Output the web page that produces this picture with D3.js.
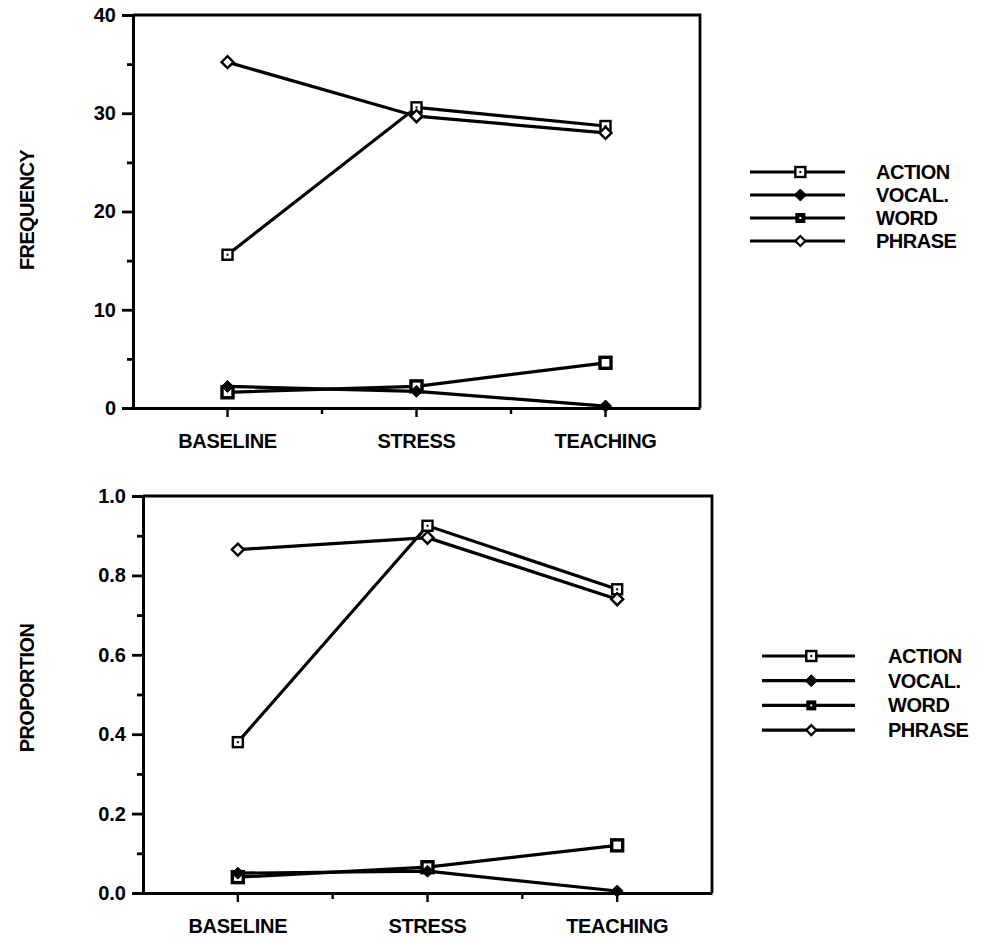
<!DOCTYPE html>
<html><head><meta charset="utf-8">
<script src="https://cdn.jsdelivr.net/npm/d3@7"></script>
<style>
body{margin:0;background:#fff;}
text{font-family:"Liberation Sans",Arial,sans-serif;fill:#000;}
</style></head>
<body><svg id="c" width="984" height="943"></svg>
<script>
const categories = ["BASELINE","STRESS","TEACHING"];
const seriesNames = ["ACTION","VOCAL","WORD","PHRASE"];
const freqAction = [15.6, 30.6, 28.7];
const freqVocal  = [2.2, 1.7, 0.2];
const freqWord   = [1.6, 2.2, 4.6];
const freqPhrase = [35.2, 29.7, 28.0];
const propAction = [0.38, 0.925, 0.765];
const propVocal  = [0.05, 0.055, 0.005];
const propWord   = [0.04, 0.065, 0.12];
const propPhrase = [0.865, 0.895, 0.74];
const freqTicks = [0, 10, 20, 30, 40];
const freqMinor = [5, 15, 25, 35];
const propTicks = [0, 0.2, 0.4, 0.6, 0.8, 1.0];
const propMinor = [0.1, 0.3, 0.5, 0.7, 0.9];

const svg = d3.select("#c");
const FONT = "Liberation Sans, Arial, sans-serif";

function marker(g, type, x, y) {
  if (type === "ACTION") {
    g.append("rect").attr("x", x-5).attr("y", y-5).attr("width", 10).attr("height", 10)
      .attr("fill", "#fff").attr("stroke", "#000").attr("stroke-width", 2.4);
    g.append("rect").attr("x", x-1).attr("y", y-1).attr("width", 2).attr("height", 2).attr("fill", "#000");
  } else if (type === "WORD") {
    g.append("rect").attr("x", x-5.5).attr("y", y-5.5).attr("width", 11).attr("height", 11)
      .attr("fill", "#fff").attr("stroke", "#000").attr("stroke-width", 3.4);
  } else if (type === "VOCAL") {
    g.append("path").attr("d", `M${x},${y-6}L${x+6},${y}L${x},${y+6}L${x-6},${y}Z`)
      .attr("fill", "#000").attr("stroke", "#000").attr("stroke-width", 1);
  } else {
    g.append("path").attr("d", `M${x},${y-6}L${x+6},${y}L${x},${y+6}L${x-6},${y}Z`)
      .attr("fill", "#fff").attr("stroke", "#000").attr("stroke-width", 2.4);
  }
}

function panel(cfg) {
  const g = svg.append("g");
  const x = d3.scaleBand().domain(categories).range([cfg.x0, cfg.x1]).padding(0);
  const y = d3.scaleLinear().domain([0, cfg.ymax]).range([cfg.y1, cfg.y0]);
  // frame
  g.append("path").attr("d", `M${cfg.x0},${cfg.y0}H${cfg.x1}V${cfg.y1}`)
    .attr("fill", "none").attr("stroke", "#000").attr("stroke-width", 2.8);
  // y axis
  const ya = g.append("g").attr("transform", `translate(${cfg.x0},0)`)
    .call(d3.axisLeft(y).tickValues(cfg.ticks).tickSize(11).tickPadding(6).tickFormat(cfg.fmt));
  ya.select(".domain").attr("stroke-width", 3);
  ya.selectAll(".tick line").attr("stroke-width", 2.8);
  ya.selectAll(".tick text").attr("font-size", 20).style("font-family", FONT).attr("font-weight", "bold");
  const ym = g.append("g").attr("transform", `translate(${cfg.x0},0)`)
    .call(d3.axisLeft(y).tickValues(cfg.minor).tickSize(6).tickFormat(""));
  ym.select(".domain").remove();
  ym.selectAll(".tick line").attr("stroke-width", 2.8);
  // x axis
  const xa = g.append("g").attr("transform", `translate(0,${cfg.y1})`)
    .call(d3.axisBottom(x).tickSize(9).tickPadding(17).tickSizeOuter(0));
  xa.select(".domain").attr("stroke-width", 3);
  xa.selectAll(".tick line").attr("stroke-width", 2.4);
  xa.selectAll(".tick text").attr("font-size", 20).style("font-family", FONT).attr("font-weight", "bold").attr("letter-spacing", "-0.3");
  // minor x ticks at band boundaries
  const bounds = categories.slice(1).map(c => x(c));
  g.selectAll(".xm").data(bounds).enter().append("line")
    .attr("x1", d => d).attr("x2", d => d).attr("y1", cfg.y1).attr("y2", cfg.y1 + 6)
    .attr("stroke", "#000").attr("stroke-width", 2.4);
  // y title
  g.append("text").attr("transform", `translate(${cfg.titleX},${cfg.titleY}) rotate(-90)`)
    .attr("text-anchor", "middle").attr("dominant-baseline", "central")
    .attr("font-size", 20).attr("font-weight", "bold").attr("letter-spacing", "-0.6")
    .text(cfg.title);
  // lines
  const line = d3.line().x((d, i) => x(categories[i]) + x.bandwidth()/2).y(d => y(d));
  const order = ["ACTION","PHRASE","WORD","VOCAL"];
  order.forEach(name => {
    g.append("path").datum(cfg.data[name]).attr("d", line).attr("fill", "none")
      .attr("stroke", "#000").attr("stroke-width", 3.2);
  });
  order.forEach(name => {
    cfg.data[name].forEach((v, i) => marker(g, name, x(categories[i]) + x.bandwidth()/2, y(v)));
  });
  // legend
  const lg = svg.append("g");
  seriesNames.forEach((name, i) => {
    const ly = cfg.legY + i * cfg.legStep;
    lg.append("line").attr("x1", cfg.legX0).attr("x2", cfg.legX1).attr("y1", ly).attr("y2", ly)
      .attr("stroke", "#000").attr("stroke-width", 3.2);
    const mx = cfg.legX0 + (cfg.legX1 - cfg.legX0) * 0.53;
    if (name === "WORD") {
      lg.append("rect").attr("x", mx-5).attr("y", ly-5).attr("width", 10).attr("height", 10).attr("fill", "#000");
      lg.append("rect").attr("x", mx-1).attr("y", ly-1).attr("width", 2).attr("height", 2).attr("fill", "#fff");
    } else if (name === "PHRASE") {
      lg.append("path").attr("d", `M${mx},${ly-5}L${mx+5},${ly}L${mx},${ly+5}L${mx-5},${ly}Z`)
        .attr("fill", "#fff").attr("stroke", "#000").attr("stroke-width", 2.2);
    } else marker(lg, name, mx, ly);
    lg.append("text").attr("x", cfg.legTextX).attr("y", ly).attr("dominant-baseline", "central")
      .attr("font-size", 20).attr("font-weight", "bold").attr("letter-spacing", "-0.5")
      .text(name === "VOCAL" ? "VOCAL." : name);
  });
}

panel({
  x0: 133, x1: 700, y0: 15, y1: 408, ymax: 40,
  ticks: freqTicks, minor: freqMinor, fmt: d3.format("d"),
  title: "FREQUENCY", titleX: 27, titleY: 210,
  data: {ACTION: freqAction, VOCAL: freqVocal, WORD: freqWord, PHRASE: freqPhrase},
  legY: 172, legStep: 23, legX0: 750, legX1: 845, legTextX: 876
});
panel({
  x0: 143, x1: 712, y0: 496, y1: 893, ymax: 1.0,
  ticks: propTicks, minor: propMinor, fmt: d3.format(".1f"),
  title: "PROPORTION", titleX: 27, titleY: 688,
  data: {ACTION: propAction, VOCAL: propVocal, WORD: propWord, PHRASE: propPhrase},
  legY: 656, legStep: 24.7, legX0: 762, legX1: 855, legTextX: 888
});
</script></body></html>
